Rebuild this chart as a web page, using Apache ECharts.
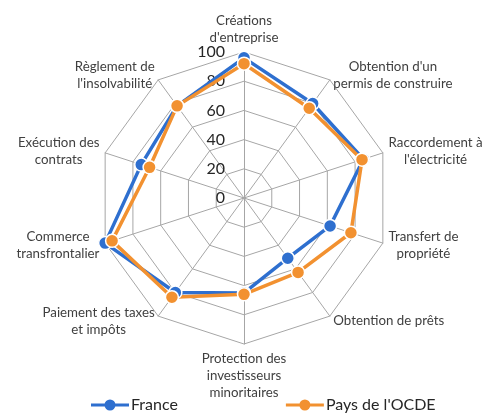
<!DOCTYPE html>
<html>
<head>
<meta charset="utf-8">
<script src="https://cdn.jsdelivr.net/npm/echarts@6/dist/echarts.min.js"></script>
<style>
  html, body { margin: 0; padding: 0; background: #fff; }
  #chart { width: 491px; height: 418px; }
</style>
</head>
<body>
<div id="chart"></div>
<script>
// critères Doing Business (sens horaire depuis le haut)
var criteres = [
  'Créations\nd\'entreprise',
  'Obtention d\'un\npermis de construire',
  'Raccordement à\nl\'électricité',
  'Transfert de\npropriété',
  'Obtention de prêts',
  'Protection des\ninvestisseurs\nminoritaires',
  'Paiement des taxes\net impôts',
  'Commerce\ntransfrontalier',
  'Exécution des\ncontrats',
  'Règlement de\nl\'insolvabilité'
];
var france = [96, 80, 86, 62, 51, 65, 80, 100, 74, 78];
var ocde   = [92, 76, 85, 77, 63, 66, 84, 95, 68, 78];
var echelleMax = 100;

var bleu = '#2E6FCF';
var orange = '#F29130';
var police = 'Lato, "Noto Sans", sans-serif';

// le radar d'echarts tourne dans le sens anti-horaire : on inverse l'ordre (sauf le premier)
var ordre = [0];
for (var k = criteres.length - 1; k > 0; k--) ordre.push(k);
function reordonne(arr) { return ordre.map(function (i) { return arr[i]; }); }

// icone de légende : trait + rond
var iconeLigne = 'path://M0,4.5L38,4.5L38,7.5L0,7.5Z M19,0.5A5.5,5.5 0 1 1 19,11.5A5.5,5.5 0 1 1 19,0.5Z';

var chart = echarts.init(document.getElementById('chart'));

var indicateurs = reordonne(criteres).map(function (c, i) {
  var ind = { name: c, max: echelleMax, min: 0 };
  if (i === 0) {
    ind.axisLabel = {
      show: true,
      fontSize: 16,
      color: '#262626',
      fontFamily: police,
      margin: 19
    };
  }
  return ind;
});

var option = {
  animation: false,
  textStyle: { fontFamily: police },
  legend: {
    bottom: 0,
    left: 86,
    itemGap: 108,
    itemWidth: 38,
    itemHeight: 12,
    itemStyle: { borderWidth: 0 },
    textStyle: { fontSize: 16, color: '#262626', fontFamily: police, padding: [0, 0, 0, -3] },
    data: [
      { name: 'France', icon: iconeLigne, itemStyle: { color: bleu, borderWidth: 0 } },
      { name: 'Pays de l\'OCDE', icon: iconeLigne, itemStyle: { color: orange, borderWidth: 0 } }
    ]
  },
  radar: {
    center: [244, 198],
    radius: 146,
    shape: 'polygon',
    splitNumber: 5,
    startAngle: 90,
    indicator: indicateurs,
    nameGap: 6,
    axisName: {
      color: '#404040',
      fontSize: 13.3,
      fontFamily: police,
      formatter: function (v) {
        return v.split('\n').map(function (s) { return '{a|' + s + '}'; }).join('\n');
      },
      rich: {
        a: { align: 'center', fontSize: 13.3, lineHeight: 17, color: '#404040', fontFamily: police }
      }
    },
    axisLabel: { show: false },
    axisLine: { lineStyle: { color: '#A6A6A6', width: 1 } },
    splitLine: { lineStyle: { color: '#A6A6A6', width: 1 } },
    splitArea: { show: false },
    axisTick: { show: false }
  },
  series: [{
    type: 'radar',
    symbol: 'circle',
    symbolSize: 13,
    data: [
      {
        name: 'France',
        value: reordonne(france),
        lineStyle: { color: bleu, width: 3.5 },
        itemStyle: { color: bleu, borderColor: '#fff', borderWidth: 1.5 }
      },
      {
        name: 'Pays de l\'OCDE',
        value: reordonne(ocde),
        lineStyle: { color: orange, width: 3.5 },
        itemStyle: { color: orange, borderColor: '#fff', borderWidth: 1.5 }
      }
    ]
  }]
};

chart.setOption(option);
</script>
</body>
</html>
